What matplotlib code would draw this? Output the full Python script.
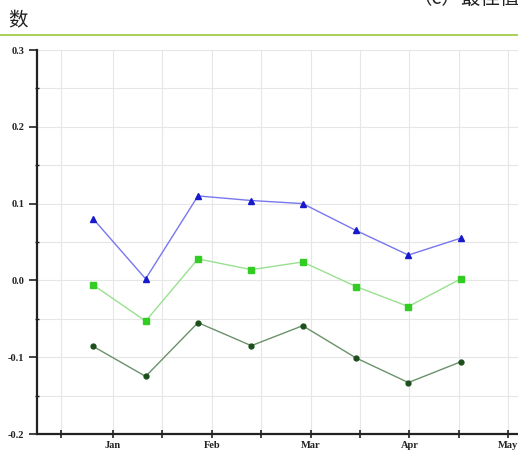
""" Monthly value curves for three settings, drawn on a half-month grid.
"""
import matplotlib.pyplot as plt
from matplotlib.lines import Line2D
from matplotlib.ticker import MultipleLocator

# positions in months (1 = Jan)
months = [0.80, 1.33, 1.86, 2.40, 2.92, 3.46, 3.99, 4.52]
month_ticks = [1, 2, 3, 4, 5]
month_labels = ["Jan", "Feb", "Mar", "Apr", "May"]

upper = [0.080, 0.002, 0.110, 0.104, 0.100, 0.065, 0.033, 0.055]
middle = [-0.006, -0.053, 0.028, 0.014, 0.024, -0.008, -0.034, 0.002]
lower = [-0.086, -0.125, -0.055, -0.085, -0.059, -0.101, -0.133, -0.106]

W, H = 518, 455
fig = plt.figure(figsize=(W / 100, H / 100), dpi=100)

# page text around the figure
fig.text(8 / W, 1 - 21 / H, "数", fontsize=14, family=["Noto Sans CJK SC"],
         va="center", ha="left", color="#222222")
fig.text(412 / W, 1 + 1 / H, "（c）最佳值", fontsize=14, family=["Noto Sans CJK SC"],
         va="center", ha="left", color="#222222")
fig.add_artist(Line2D([0, 1], [1 - 35 / H, 1 - 35 / H], transform=fig.transFigure,
                      color="#9cc83a", lw=1.2))

ax = fig.add_axes([37 / W, 1 - 434 / H, 1 - 37 / W, 384 / H])

ax.plot(months, upper, "-^", color="#7777ee", lw=1.0, ms=4,
        mfc="#1818cc", mec="#1818cc")
ax.plot(months, middle, "-s", color="#99e090", lw=1.0, ms=4,
        mfc="#33cc22", mec="#33cc22")
ax.plot(months, lower, "-o", color="#6a926a", lw=1.0, ms=3.5,
        mfc="#1c4f1c", mec="#1c4f1c")

ax.set_xlim(0.23, 5.10)
ax.set_ylim(-0.2, 0.3)

ax.set_xticks(month_ticks)
ax.set_xticklabels(month_labels)
ax.set_xticks([0.47, 1.5, 2.5, 3.5, 4.5], minor=True)
ax.yaxis.set_major_locator(MultipleLocator(0.1))
ax.yaxis.set_minor_locator(MultipleLocator(0.05))
ax.set_yticklabels([f"{v:.1f}" for v in ax.get_yticks()])

for lab in ax.get_xticklabels() + ax.get_yticklabels():
    lab.set_family("Liberation Serif")
    lab.set_fontweight("bold")
    lab.set_fontsize(7.5)
    lab.set_color("#222222")

ax.tick_params(axis="both", which="major", length=6, width=1.2, color="#222222")
ax.tick_params(axis="x", which="minor", length=6, width=1.2, color="#222222")
ax.tick_params(axis="y", which="minor", length=3, width=1.0, color="#222222",
               direction="inout")
ax.tick_params(axis="x", which="both", direction="inout", pad=2)
ax.tick_params(axis="y", which="major", pad=3)

ax.grid(True, which="both", color="#e6e6e6", lw=0.8)
ax.set_axisbelow(True)

for side in ("top", "right"):
    ax.spines[side].set_visible(False)
for side in ("left", "bottom"):
    ax.spines[side].set_linewidth(1.6)
    ax.spines[side].set_color("#222222")

fig.savefig("out.png", dpi=100)
